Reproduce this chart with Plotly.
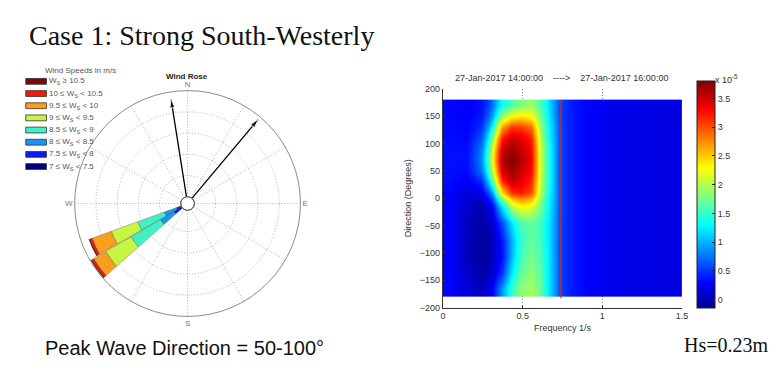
import plotly.graph_objects as go

W, H = 784, 372

# ---------------- data ----------------
# Wind rose: two direction sectors (deg from N, clockwise), stacked by speed bin (% of time)
wind_dirs = [245, 234]
sector_width = [10, 11]
speed_labels = [
    "7 ≤ W<sub>S</sub> &lt; 7.5",
    "7.5 ≤ W<sub>S</sub> &lt; 8",
    "8 ≤ W<sub>S</sub> &lt; 8.5",
    "8.5 ≤ W<sub>S</sub> &lt; 9",
    "9 ≤ W<sub>S</sub> &lt; 9.5",
    "9.5 ≤ W<sub>S</sub> &lt; 10",
    "10 ≤ W<sub>S</sub> &lt; 10.5",
    "W<sub>S</sub> ≥ 10.5",
]
speed_colors = ["#00007f", "#0a1cf5", "#1a96f0", "#42f0c4",
                "#c6f542", "#fa9e1e", "#f01a0a", "#7a0a0a"]
freq_7_75 = [0.5, 1.6]
freq_75_8 = [2.0, 2.7]
freq_8_85 = [6.0, 7.4]
freq_85_9 = [13.3, 16.0]
freq_9_95 = [13.3, 13.8]
freq_95_10 = [9.6, 6.6]
freq_10_105 = [1.1, 1.1]
freq_105 = [0.5, 0.5]
speed_freqs = [freq_7_75, freq_75_8, freq_8_85, freq_85_9,
               freq_9_95, freq_95_10, freq_10_105, freq_105]
cardinal_vals = [0, 30, 60, 90, 120, 150, 180, 210, 240, 270, 300, 330]
cardinal_text = ["N", "", "", "E", "", "", "S", "", "", "W", "", ""]

# arrows on the wind rose
arrow_dirs = [351, 40]
arrow_len = [46.5, 48.5]

# Directional spectrum (units of 1e-5)
freq_edges = [0, 0.1, 0.2, 0.28, 0.34, 0.4, 0.46, 0.52, 0.58, 0.64, 0.7, 0.76, 0.85, 1.0, 1.2, 1.5]
dir_edges = [-180, -150, -120, -90, -60, -30, 0, 20, 40, 60, 80, 100, 120, 140, 160, 180]
spec_z = [
    [0.32, 0.15, 0.05, 0.30, 0.90, 1.50, 1.85, 1.95, 1.70, 1.15, 0.60, 0.40, 0.28, 0.22, 0.19],  # -165
    [0.30, 0.08, -0.05, 0.10, 0.50, 1.20, 1.70, 1.85, 1.65, 1.15, 0.60, 0.40, 0.28, 0.22, 0.19],  # -135
    [0.30, 0.04, -0.08, 0.05, 0.35, 1.00, 1.55, 1.75, 1.60, 1.15, 0.60, 0.40, 0.28, 0.22, 0.19],  # -105
    [0.30, 0.04, -0.08, 0.05, 0.40, 1.00, 1.50, 1.70, 1.55, 1.15, 0.60, 0.40, 0.28, 0.22, 0.19],  # -75
    [0.30, 0.05, -0.06, 0.10, 0.60, 1.20, 1.60, 1.70, 1.55, 1.15, 0.60, 0.40, 0.28, 0.22, 0.19],  # -45
    [0.30, 0.08, 0.00, 0.30, 1.20, 2.00, 2.30, 2.20, 1.75, 1.20, 0.62, 0.40, 0.28, 0.22, 0.19],  # -15
    [0.30, 0.15, 0.20, 0.90, 2.40, 3.10, 3.20, 3.00, 2.00, 1.25, 0.62, 0.40, 0.28, 0.22, 0.19],  # 10
    [0.33, 0.25, 0.45, 1.60, 3.10, 3.50, 3.40, 3.15, 2.05, 1.30, 0.62, 0.40, 0.28, 0.22, 0.19],  # 30
    [0.35, 0.33, 0.75, 2.10, 3.45, 3.70, 3.50, 3.30, 2.10, 1.30, 0.62, 0.40, 0.28, 0.22, 0.19],  # 50
    [0.35, 0.35, 0.85, 2.30, 3.60, 3.80, 3.60, 3.35, 2.10, 1.30, 0.62, 0.40, 0.28, 0.22, 0.19],  # 70
    [0.35, 0.35, 0.80, 2.20, 3.50, 3.70, 3.55, 3.30, 2.10, 1.30, 0.62, 0.40, 0.28, 0.22, 0.19],  # 90
    [0.34, 0.32, 0.65, 1.85, 3.20, 3.50, 3.40, 3.20, 2.00, 1.25, 0.62, 0.40, 0.28, 0.22, 0.19],  # 110
    [0.33, 0.30, 0.50, 1.35, 2.70, 3.10, 3.10, 2.90, 1.90, 1.20, 0.62, 0.40, 0.28, 0.22, 0.19],  # 130
    [0.32, 0.28, 0.40, 0.95, 1.90, 2.30, 2.40, 2.30, 1.75, 1.15, 0.60, 0.40, 0.28, 0.22, 0.19],  # 150
    [0.32, 0.28, 0.35, 0.75, 1.35, 1.60, 1.80, 1.90, 1.60, 1.10, 0.60, 0.40, 0.28, 0.22, 0.19],  # 170
]
spec_zmin, spec_zmax = -0.14, 3.81
cbar_ticks = [0, 0.5, 1, 1.5, 2, 2.5, 3, 3.5]
cbar_ticktext = ["0", "0.5", "1", "1.5", "2", "2.5", "3", "3.5"]
freq_ticks = [0, 0.5, 1, 1.5]
freq_ticktext = ["0", "0.5", "1", "1.5"]
dir_ticks = [-200, -150, -100, -50, 0, 50, 100, 150, 200]
peak_line_freq = 0.74
peak_line_dirs = [-183, 180]

jet = [[0.0, "rgb(0,0,143)"], [0.111, "rgb(0,0,255)"], [0.365, "rgb(0,255,255)"],
       [0.619, "rgb(255,255,0)"], [0.873, "rgb(255,0,0)"], [1.0, "rgb(128,0,0)"]]


def px(x):
    return x / W


def py(y):
    return 1 - y / H


fig = go.Figure()

# ---------------- wind rose ----------------
for lab, col, vals in zip(speed_labels, speed_colors, speed_freqs):
    fig.add_trace(go.Barpolar(
        r=vals, theta=wind_dirs, width=sector_width, name=lab,
        marker=dict(color=col, line=dict(color="rgba(40,40,40,0.55)", width=0.5)),
        showlegend=False, subplot="polar", hoverinfo="skip"))

for d, L in zip(arrow_dirs, arrow_len):
    fig.add_trace(go.Scatterpolar(
        r=[0, L], theta=[d, d], mode="lines+markers",
        line=dict(color="black", width=1.3),
        marker=dict(symbol=["circle", "arrow"], size=[0, 9], angle=[0, d], color="black"),
        showlegend=False, subplot="polar", hoverinfo="skip"))

CX, CY, R = 186.7, 204, 116

# ---------------- spectrum ----------------
fig.add_trace(go.Heatmap(
    x=freq_edges, y=dir_edges, z=spec_z, zsmooth="best",
    colorscale=jet, zmin=spec_zmin, zmax=spec_zmax,
    colorbar=dict(x=px(702), xanchor="left", y=py(311), yanchor="bottom",
                  len=227, lenmode="pixels", thickness=18, thicknessmode="pixels",
                  xpad=0, ypad=0, outlinewidth=1, outlinecolor="#222",
                  tickmode="array", tickvals=cbar_ticks, ticktext=cbar_ticktext,
                  ticks="inside", ticklen=3, tickcolor="#222",
                  tickfont=dict(family="Liberation Sans", size=9, color="#333")),
    hoverinfo="skip"))

fig.add_trace(go.Scatter(
    x=[peak_line_freq, peak_line_freq], y=peak_line_dirs, mode="lines",
    line=dict(color="#e2231a", width=1.2), showlegend=False, hoverinfo="skip"))

tickfont = dict(family="Liberation Sans", size=9, color="#333")


def note(text, x, y, size, family="Liberation Sans", color="#333", xanchor="left"):
    return dict(text=text, x=px(x), y=py(y), xref="paper", yref="paper",
                xanchor=xanchor, yanchor="middle", showarrow=False,
                font=dict(family=family, size=size, color=color))


shapes = [
    dict(type="circle", xref="paper", yref="paper",
         x0=px(CX - 7), x1=px(CX + 7), y0=py(CY + 7), y1=py(CY - 7),
         line=dict(color="#555", width=1), fillcolor="rgba(0,0,0,0)"),
]

annotations = [
    note("Case 1: Strong South-Westerly", 24, 31, 28, "Liberation Serif", "#111"),
    note("Peak Wave Direction = 50-100°", 40, 352, 20, "Liberation Sans", "#111"),
    note("Hs=0.23m", 777, 349, 20, "Liberation Serif", "#111", xanchor="right"),
    note("<b>Wind Rose</b>", 186, 73, 8, color="#222", xanchor="center"),
    note("Wind Speeds in m/s", 78, 67, 8, color="#555", xanchor="center"),
    note("27-Jan-2017 14:00:00    ---->    27-Jan-2017 16:00:00", 565, 75, 9, xanchor="center"),
    note("x 10<sup>-5</sup>", 718, 76, 9),
]

# manual legend (top = highest speed)
for i, (lab, col) in enumerate(zip(speed_labels[::-1], speed_colors[::-1])):
    yc = 78.5 + 12.5 * i
    shapes.append(dict(type="rect", xref="paper", yref="paper",
                       x0=px(23), x1=px(44), y0=py(yc + 3), y1=py(yc - 3),
                       fillcolor=col, line=dict(color="#333", width=0.8)))
    annotations.append(note(lab, 45, yc, 8, color="#555"))

dotted = "1px,2px"

fig.update_layout(
    width=W, height=H, margin=dict(l=0, r=0, t=0, b=0),
    paper_bgcolor="white", plot_bgcolor="white",
    polar=dict(
        domain=dict(x=[px(CX - R), px(CX + R)], y=[py(CY + R), py(CY - R)]),
        hole=0.06, bgcolor="white", barmode="stack",
        radialaxis=dict(range=[0, 50], dtick=10, showticklabels=False, ticks="",
                        showline=False, gridcolor="#b0b0b0", griddash=dotted, gridwidth=1),
        angularaxis=dict(rotation=90, direction="clockwise", tickmode="array",
                         tickvals=cardinal_vals, ticktext=cardinal_text, ticks="",
                         showline=True, linecolor="#8a8a8a", linewidth=1,
                         gridcolor="#b0b0b0", griddash=dotted,
                         tickfont=dict(family="Liberation Sans", size=8, color="#777")),
    ),
    xaxis=dict(domain=[px(445), px(687)], range=[0, 1.5], tickmode="array",
               tickvals=freq_ticks, ticktext=freq_ticktext, ticks="inside", ticklen=3,
               tickcolor="#333", showline=True, linecolor="#333", linewidth=1,
               showgrid=True, gridcolor="#888", griddash=dotted, zeroline=False,
               tickfont=tickfont, anchor="y",
               title=dict(text="Frequency 1/s", font=tickfont, standoff=4)),
    yaxis=dict(domain=[py(311), py(86)], range=[-200, 200], tickmode="array",
               tickvals=dir_ticks, ticks="inside", ticklen=3,
               tickcolor="#333", showline=True, linecolor="#333", linewidth=1,
               showgrid=True, gridcolor="#888", griddash=dotted, zeroline=False,
               tickfont=tickfont, anchor="x",
               title=dict(text="Direction (Degrees)", font=tickfont, standoff=6)),
    shapes=shapes, annotations=annotations, showlegend=False,
)

page_css = ("var s=document.createElement('style');"
            "s.textContent='html,body{margin:0;padding:0;overflow:hidden;}';"
            "document.head.appendChild(s);")

fig.write_html("out.html", config={"displayModeBar": False, "responsive": False},
               post_script=page_css)
